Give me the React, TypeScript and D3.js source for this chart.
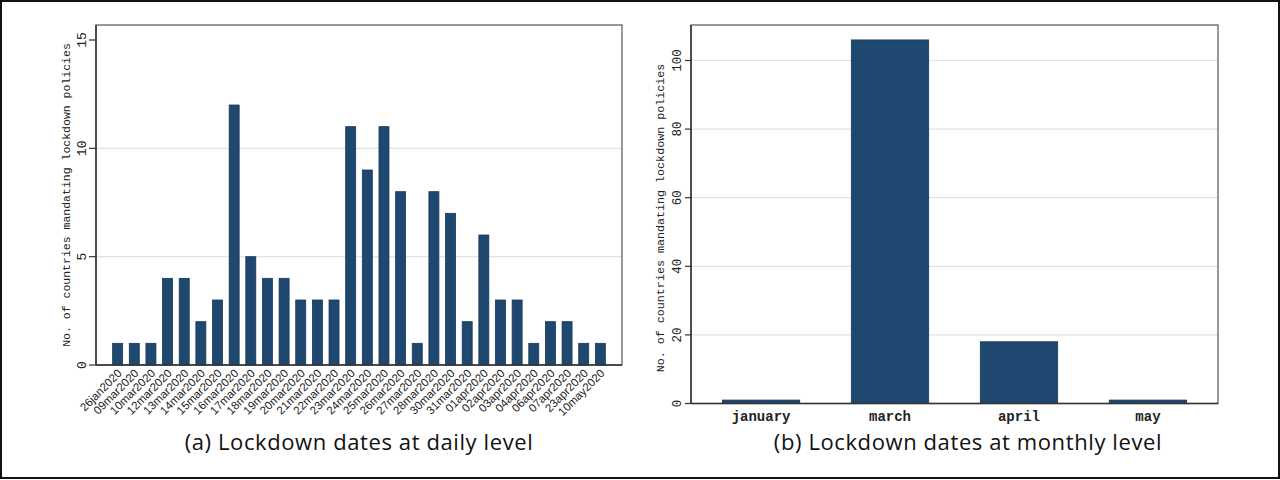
import React, { useEffect, useRef } from "react";
import * as d3 from "d3";

// daily counts
const dayLabels: string[] = [
  "26jan2020", "09mar2020", "10mar2020", "12mar2020", "13mar2020", "14mar2020",
  "15mar2020", "16mar2020", "17mar2020", "18mar2020", "19mar2020", "20mar2020",
  "21mar2020", "22mar2020", "23mar2020", "24mar2020", "25mar2020", "26mar2020",
  "27mar2020", "28mar2020", "30mar2020", "31mar2020", "01apr2020", "02apr2020",
  "03apr2020", "04apr2020", "06apr2020", "07apr2020", "23apr2020", "10may2020",
];
const dayValues: number[] = [
  1, 1, 1, 4, 4, 2, 3, 12, 5, 4, 4, 3, 3, 3, 11, 9, 11, 8, 1, 8, 7, 2, 6, 3, 3, 1, 2, 2, 1, 1,
];
const dayTicks: number[] = [0, 5, 10, 15];

// monthly counts
const monthLabels: string[] = ["january", "march", "april", "may"];
const monthValues: number[] = [1, 106, 18, 1];
const monthTicks: number[] = [0, 20, 40, 60, 80, 100];

const yTitle = "No. of countries mandating lockdown policies";
const BAR = "#1f4870";
const MONO = "'Liberation Mono', 'DejaVu Sans Mono', monospace";
const CAPTION = "'Open Sans', 'Noto Sans', sans-serif";

function App() {
  const ref = useRef<SVGSVGElement>(null);

  useEffect(() => {
    document.body.style.margin = "0";
    const svg = d3.select(ref.current);
    svg.selectAll("*").remove();

    svg.append("rect")
      .attr("x", 1).attr("y", 1).attr("width", 1278).attr("height", 477)
      .attr("fill", "white").attr("stroke", "#111").attr("stroke-width", 2);

    // ---- panel a ----
    const a = { left: 96, right: 622, top: 25, bottom: 365 };
    const xa = d3.scaleBand<string>().domain(dayLabels)
      .range([a.left, a.right]).paddingInner(0.4).paddingOuter(1);
    const ya = d3.scaleLinear().domain([0, 15]).range([a.bottom, 40]);

    const ga = svg.append("g");
    ga.selectAll(".grid").data(dayTicks.filter(t => t > 0 && t < 15)).join("line")
      .attr("x1", a.left).attr("x2", a.right)
      .attr("y1", d => ya(d)).attr("y2", d => ya(d))
      .attr("stroke", "#e2e2e2").attr("stroke-width", 1.2);
    ga.append("rect")
      .attr("x", a.left).attr("y", a.top)
      .attr("width", a.right - a.left).attr("height", a.bottom - a.top)
      .attr("fill", "none").attr("stroke", "#555").attr("stroke-width", 1.2);
    ga.selectAll(".bar").data(dayValues).join("rect")
      .attr("x", (d, i) => xa(dayLabels[i])!)
      .attr("width", xa.bandwidth())
      .attr("y", d => ya(d))
      .attr("height", d => ya(0) - ya(d))
      .attr("fill", BAR).attr("stroke", "#17385a").attr("stroke-width", 0.8);
    ga.append("line")
      .attr("x1", a.left).attr("x2", a.right).attr("y1", a.bottom).attr("y2", a.bottom)
      .attr("stroke", "#333").attr("stroke-width", 1.5);
    ga.append("line")
      .attr("x1", a.left).attr("x2", a.left).attr("y1", a.top).attr("y2", a.bottom)
      .attr("stroke", "#333").attr("stroke-width", 1.5);
    ga.selectAll(".tick").data(dayTicks).join("line")
      .attr("x1", a.left - 7).attr("x2", a.left)
      .attr("y1", d => ya(d)).attr("y2", d => ya(d))
      .attr("stroke", "#333").attr("stroke-width", 1.2);
    ga.selectAll(".tl").data(dayTicks).join("text")
      .attr("transform", d => `translate(${a.left - 10},${ya(d)}) rotate(-90)`)
      .attr("text-anchor", "middle")
      .attr("font-family", MONO).attr("font-size", 13).attr("fill", "#222")
      .text(d => d);
    ga.selectAll(".xl").data(dayLabels).join("text")
      .attr("transform", d => `translate(${xa(d)! + xa.bandwidth() / 2 + 5},${a.bottom + 9}) rotate(-45)`)
      .attr("text-anchor", "end")
      .attr("font-family", "'Liberation Sans', Arial, sans-serif").attr("font-size", 11.5).attr("fill", "#222")
      .text(d => d);
    ga.append("text")
      .attr("transform", `translate(70,195) rotate(-90)`)
      .attr("text-anchor", "middle")
      .attr("font-family", MONO).attr("font-size", 11.5).attr("fill", "#222")
      .text(yTitle);
    ga.append("text")
      .attr("x", 359).attr("y", 450).attr("text-anchor", "middle")
      .attr("font-family", CAPTION).attr("font-size", 22).attr("letter-spacing", 0.6).attr("fill", "#111")
      .text("(a) Lockdown dates at daily level");

    // ---- panel b ----
    const b = { left: 691, right: 1218, top: 25, bottom: 403.5 };
    const xb = d3.scaleBand<string>().domain(monthLabels)
      .range([b.left, b.right]).paddingInner(0.4).paddingOuter(0.243);
    const yb = d3.scaleLinear().domain([0, 100]).range([b.bottom, 60.5]);

    const gb = svg.append("g");
    gb.selectAll(".grid").data(monthTicks.filter(t => t > 0)).join("line")
      .attr("x1", b.left).attr("x2", b.right)
      .attr("y1", d => yb(d)).attr("y2", d => yb(d))
      .attr("stroke", "#e2e2e2").attr("stroke-width", 1.2);
    gb.append("rect")
      .attr("x", b.left).attr("y", b.top)
      .attr("width", b.right - b.left).attr("height", b.bottom - b.top)
      .attr("fill", "none").attr("stroke", "#555").attr("stroke-width", 1.2);
    gb.selectAll(".bar").data(monthValues).join("rect")
      .attr("x", (d, i) => xb(monthLabels[i])!)
      .attr("width", xb.bandwidth())
      .attr("y", d => yb(d))
      .attr("height", d => yb(0) - yb(d))
      .attr("fill", BAR).attr("stroke", "#17385a").attr("stroke-width", 0.8);
    gb.append("line")
      .attr("x1", b.left).attr("x2", b.right).attr("y1", b.bottom).attr("y2", b.bottom)
      .attr("stroke", "#333").attr("stroke-width", 1.5);
    gb.append("line")
      .attr("x1", b.left).attr("x2", b.left).attr("y1", b.top).attr("y2", b.bottom)
      .attr("stroke", "#333").attr("stroke-width", 1.5);
    gb.selectAll(".tick").data(monthTicks).join("line")
      .attr("x1", b.left - 6).attr("x2", b.left)
      .attr("y1", d => yb(d)).attr("y2", d => yb(d))
      .attr("stroke", "#333").attr("stroke-width", 1.2);
    gb.selectAll(".tl").data(monthTicks).join("text")
      .attr("transform", d => `translate(${b.left - 10},${yb(d)}) rotate(-90)`)
      .attr("text-anchor", "middle")
      .attr("font-family", MONO).attr("font-size", 12.5).attr("fill", "#222")
      .text(d => d);
    gb.selectAll(".xl").data(monthLabels).join("text")
      .attr("x", d => xb(d)! + xb.bandwidth() / 2)
      .attr("y", b.bottom + 17)
      .attr("text-anchor", "middle")
      .attr("font-family", MONO).attr("font-size", 14).attr("font-weight", "bold").attr("fill", "#222")
      .text(d => d);
    gb.append("text")
      .attr("transform", `translate(664,218) rotate(-90)`)
      .attr("text-anchor", "middle")
      .attr("font-family", MONO).attr("font-size", 11.7).attr("fill", "#222")
      .text(yTitle);
    gb.append("text")
      .attr("x", 968).attr("y", 450).attr("text-anchor", "middle")
      .attr("font-family", CAPTION).attr("font-size", 22).attr("letter-spacing", 0.6).attr("fill", "#111")
      .text("(b) Lockdown dates at monthly level");
  }, []);

  return <svg ref={ref} width={1280} height={480} style={{ display: "block" }} />;
}

export default App;
